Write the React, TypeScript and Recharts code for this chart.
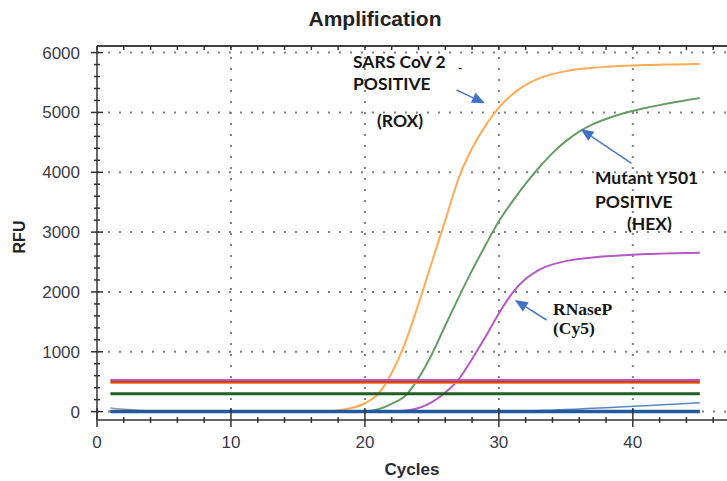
import React from 'react';
import { LineChart, Line, XAxis, YAxis, CartesianGrid, ReferenceLine } from 'recharts';

// cycles 1..45
const cycles = [
  1, 2, 3, 4, 5, 6, 7, 8, 9, 10, 11, 12, 13, 14, 15, 16, 17, 18, 19, 20, 21, 22, 23,
  24, 25, 26, 27, 28, 29, 30, 31, 32, 33, 34, 35, 36, 37, 38, 39, 40, 41, 42, 43, 44, 45,
];

// SARS CoV 2 (ROX)
const rox = [
  0, 0, 0, 0, 0, 0, 0, 0, 0, 0, 0, 0, 0, 0, 0, 0, 5, 20, 60, 140, 300, 650, 1150,
  1800, 2500, 3200, 3900, 4400, 4780, 5080, 5300, 5460, 5570, 5640, 5690, 5725, 5748, 5763, 5775, 5785, 5792, 5798, 5802, 5806, 5810,
];

// Mutant Y501 (HEX)
const hex = [
  0, 0, 0, 0, 0, 0, 0, 0, 0, 0, 0, 0, 0, 0, 0, 0, 0, 0, 0, 5, 40, 130, 260,
  560, 960, 1440, 1910, 2360, 2780, 3180, 3510, 3810, 4080, 4320, 4520, 4680, 4800, 4890, 4965, 5025, 5078, 5122, 5165, 5205, 5240,
];

// RNaseP (Cy5)
const cy5 = [
  0, 0, 0, 0, 0, 0, 0, 0, 0, 0, 0, 0, 0, 0, 0, 0, 0, 0, 0, 0, 0, 0, 15,
  60, 160, 320, 540, 880, 1250, 1640, 1980, 2220, 2370, 2460, 2515, 2550, 2575, 2595, 2610, 2622, 2632, 2640, 2646, 2651, 2655,
];

// slow drift of the negative well
const drift = [
  0, 0, 0, 0, 0, 0, 0, 0, 0, 0, 0, 0, 0, 0, 0, 0, 0, 0, 0, 0, 0, 0, 0,
  0, 0, 0, 0, 0, 0, 0, 5, 10, 17, 25, 34, 44, 55, 66, 77, 88, 100, 112, 124, 136, 148,
];

// faint start-up noise, first few cycles only
const startNoise = [60, 40, 25, 10, 3];

// thresholds
const thresholdCy5 = 530;
const thresholdTexasRed = 500;
const thresholdRox = 478;
const thresholdHex = 300;
const baseline = 0;

const xTicks = [0, 2, 4, 6, 8, 10, 12, 14, 16, 18, 20, 22, 24, 26, 28, 30, 32, 34, 36, 38, 40, 42, 44, 46];
const yTicks = [
  0, 200, 400, 600, 800, 1000, 1200, 1400, 1600, 1800, 2000, 2200, 2400, 2600, 2800, 3000,
  3200, 3400, 3600, 3800, 4000, 4200, 4400, 4600, 4800, 5000, 5200, 5400, 5600, 5800, 6000,
];
const gridY = [0, 1000, 2000, 3000, 4000, 5000, 6000];
const gridX = [10, 20, 30, 40];
const yMin = -140;
const yMax = 6110;

// annotation arrows, in data units
const arrows = [
  { from: { x: 26.84, y: 5374 }, to: { x: 28.96, y: 5152 } },
  { from: { x: 39.9, y: 4149 }, to: { x: 36.1, y: 4723 } },
  { from: { x: 33.56, y: 1531 }, to: { x: 31.19, y: 1865 } },
];

const rows = cycles.map((c, i) => ({
  cycle: c,
  rox: rox[i],
  hex: hex[i],
  cy5: cy5[i],
  drift: drift[i],
  noise: i < startNoise.length ? startNoise[i] : null,
  thrCy5: thresholdCy5,
  thrRed: thresholdTexasRed,
  thrRox: thresholdRox,
  thrHex: thresholdHex,
  base: baseline,
}));

const AXIS = '#333';
const SANS = '"Liberation Sans", Arial, sans-serif';

function YTick(props: any) {
  const { x, y, payload } = props;
  const major = payload.value % 1000 === 0;
  return (
    <g>
      <line x1={major ? x - 6 : x - 3} x2={major ? x + 6 : x + 3} y1={y} y2={y} stroke={AXIS} strokeWidth={1.5} />
      {major && (
        <text x={x - 17} y={y + 6} textAnchor="end" fontSize={17} fill="#3b3b4a" fontFamily={SANS}>
          {payload.value}
        </text>
      )}
    </g>
  );
}

function XTick(props: any) {
  const { x, y, payload } = props;
  const major = payload.value % 10 === 0;
  return (
    <g>
      <line x1={x} x2={x} y1={major ? y - 12 : y - 3} y2={major ? y + 7 : y + 3} stroke={AXIS} strokeWidth={1.5} />
      {major && (
        <text x={x} y={y + 28} textAnchor="middle" fontSize={17} fill="#3b3b4a" fontFamily={SANS}>
          {payload.value}
        </text>
      )}
    </g>
  );
}

function TopTick(props: any) {
  const { x, y } = props;
  return <line x1={x} x2={x} y1={y} y2={y + 4} stroke={AXIS} strokeWidth={1.5} />;
}

function Arrow(props: any) {
  const { x1, y1, x2, y2 } = props;
  const ang = Math.atan2(y2 - y1, x2 - x1);
  const len = 13;
  const hw = 5.5;
  const bx = x2 - len * Math.cos(ang);
  const by = y2 - len * Math.sin(ang);
  const px = -Math.sin(ang) * hw;
  const py = Math.cos(ang) * hw;
  return (
    <g>
      <line x1={x1} y1={y1} x2={bx} y2={by} stroke="#4a78c8" strokeWidth={1.5} />
      <polygon points={`${x2},${y2} ${bx + px},${by + py} ${bx - px},${by - py}`} fill="#4472c4" />
    </g>
  );
}

const note = { fontFamily: 'Lato, "Open Sans", sans-serif', fontWeight: 700, fontSize: 17.5, fill: '#151515' };
const serifNote = { fontFamily: '"Liberation Serif", "Times New Roman", serif', fontWeight: 700, fontSize: 17.5, fill: '#151515' };

export default function App() {
  return (
    <div style={{ position: 'fixed', left: 0, top: 0, width: 727, height: 481, overflow: 'hidden', background: '#fff' }}>
      <LineChart width={745} height={481} data={rows} margin={{ top: 45, right: 5, bottom: 0, left: 0 }}>
        <CartesianGrid
          horizontalValues={gridY}
          verticalValues={gridX}
          stroke="#808080"
          strokeWidth={2}
          strokeDasharray="2 9"
        />
        <XAxis
          dataKey="cycle"
          type="number"
          domain={[0, 48]}
          ticks={xTicks}
          interval={0}
          allowDataOverflow
          height={61}
          tickSize={0}
          tickMargin={0}
          tickLine={false}
          tick={<XTick />}
          axisLine={{ stroke: AXIS, strokeWidth: 1.5 }}
        />
        <XAxis
          xAxisId="top"
          orientation="top"
          dataKey="cycle"
          type="number"
          domain={[0, 48]}
          ticks={xTicks}
          interval={0}
          allowDataOverflow
          height={1}
          tickSize={0}
          tickMargin={0}
          tickLine={false}
          tick={<TopTick />}
          axisLine={{ stroke: AXIS, strokeWidth: 1.5 }}
        />
        <YAxis
          type="number"
          domain={[yMin, yMax]}
          ticks={yTicks}
          interval={0}
          allowDataOverflow
          width={97}
          tickSize={0}
          tickMargin={0}
          tickLine={false}
          tick={<YTick />}
          axisLine={{ stroke: AXIS, strokeWidth: 1.5 }}
        />

        {/* frame along the top of the plot */}
        <ReferenceLine y={yMax} stroke={AXIS} strokeWidth={1.5} ifOverflow="visible" />

        <Line type="monotone" dataKey="rox" stroke="#ffab55" strokeWidth={2} dot={false} activeDot={false} isAnimationActive={false} />
        <Line type="monotone" dataKey="hex" stroke="#679d67" strokeWidth={2} dot={false} activeDot={false} isAnimationActive={false} />
        <Line type="monotone" dataKey="cy5" stroke="#b35ac6" strokeWidth={2} dot={false} activeDot={false} isAnimationActive={false} />
        <Line type="monotone" dataKey="noise" stroke="#9a9aa8" strokeWidth={1.5} dot={false} activeDot={false} isAnimationActive={false} />
        <Line type="monotone" dataKey="drift" stroke="#5a86c4" strokeWidth={1.5} dot={false} activeDot={false} isAnimationActive={false} />

        <Line dataKey="thrRox" stroke="#f7931e" strokeWidth={2} dot={false} activeDot={false} isAnimationActive={false} />
        <Line dataKey="thrRed" stroke="#cf3328" strokeWidth={2} dot={false} activeDot={false} isAnimationActive={false} />
        <Line dataKey="thrCy5" stroke="#b456c8" strokeWidth={2} dot={false} activeDot={false} isAnimationActive={false} />
        <Line dataKey="thrHex" stroke="#225e22" strokeWidth={3} dot={false} activeDot={false} isAnimationActive={false} />
        <Line dataKey="base" stroke="#1f5aa0" strokeWidth={3.5} dot={false} activeDot={false} isAnimationActive={false} />

        {arrows.map((a, i) => (
          <ReferenceLine key={i} segment={[a.from, a.to]} shape={<Arrow />} />
        ))}
      </LineChart>

      <svg width={727} height={481} style={{ position: 'absolute', left: 0, top: 0, pointerEvents: 'none' }}>
        <text x={375} y={26} textAnchor="middle" fontFamily={SANS} fontWeight={700} fontSize={21} fill="#222">
          Amplification
        </text>
        <text transform="translate(25,237) rotate(-90)" textAnchor="middle" fontFamily={SANS} fontWeight={700} fontSize={16} fill="#222">
          RFU
        </text>
        <text x={412} y={475} textAnchor="middle" fontFamily={SANS} fontWeight={700} fontSize={17} fill="#2a2a38">
          Cycles
        </text>

        <text x={353} y={68} {...note}>SARS CoV 2</text>
        <text x={458} y={72} {...note} fontSize={12}>-</text>
        <text x={353} y={90} {...note}>POSITIVE</text>
        <text x={377} y={127} {...note}>(ROX)</text>

        <text x={595} y={184} {...note}>Mutant Y501</text>
        <text x={595} y={208} {...note}>POSITIVE</text>
        <text x={627} y={230} {...note}>(HEX)</text>

        <text x={553} y={315} {...serifNote}>RNaseP</text>
        <text x={553} y={334} {...serifNote}>(Cy5)</text>
      </svg>
    </div>
  );
}
